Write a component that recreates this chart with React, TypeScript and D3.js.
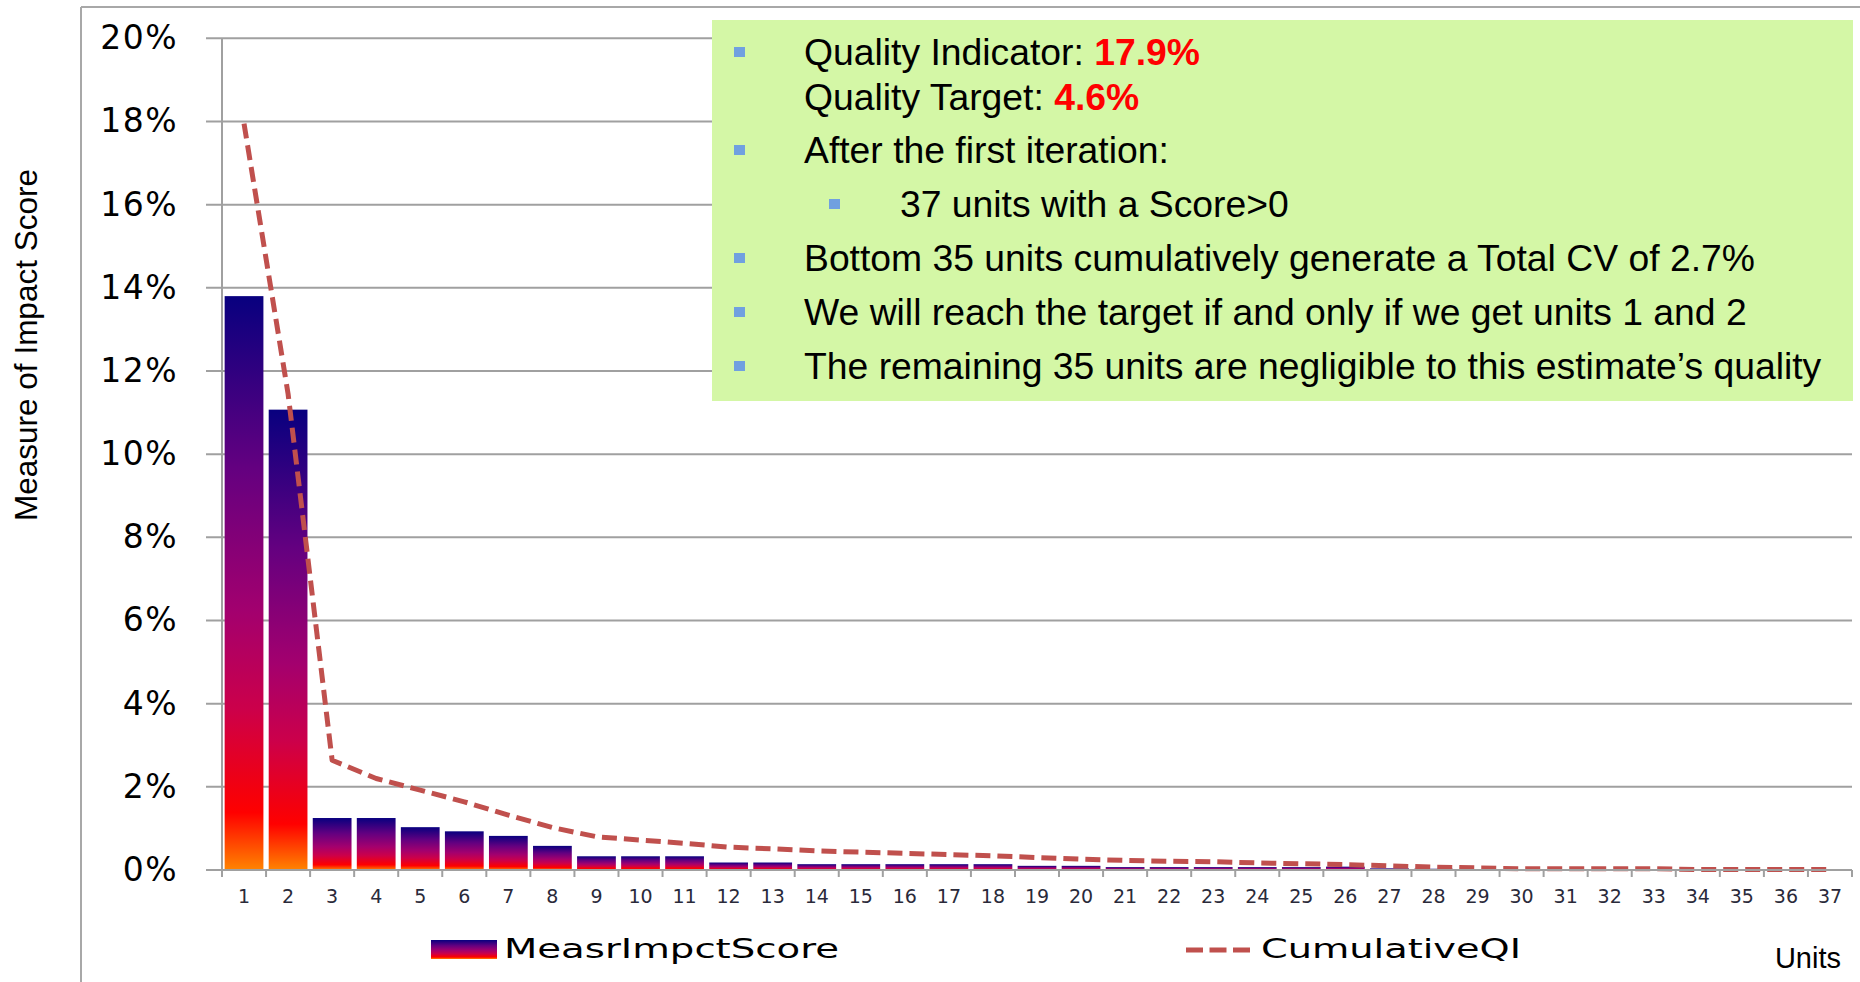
import React, { useEffect, useRef } from "react";
import * as d3 from "d3";

// units along the x axis
const units = [
  "1", "2", "3", "4", "5", "6", "7", "8", "9", "10", "11", "12", "13", "14", "15", "16", "17", "18", "19",
  "20", "21", "22", "23", "24", "25", "26", "27", "28", "29", "30", "31", "32", "33", "34", "35", "36", "37",
];

// MeasrImpctScore, in %
const impactScore = [
  13.8, 11.07, 1.25, 1.25, 1.03, 0.93, 0.82, 0.58, 0.33, 0.33, 0.33, 0.18, 0.18, 0.14, 0.14, 0.14, 0.14, 0.14,
  0.1, 0.1, 0.07, 0.07, 0.07, 0.07, 0.07, 0.08, 0.04, 0.03, 0.01, 0.01, 0.01, 0.01, 0.01, 0.01, 0.01, 0.01, 0.01,
];

// CumulativeQI, in %
const cumulativeQI = [
  17.95, 11.45, 2.64, 2.2, 1.92, 1.64, 1.32, 1.02, 0.8, 0.72, 0.64, 0.55, 0.51, 0.46, 0.43, 0.4, 0.37, 0.34,
  0.3, 0.26, 0.23, 0.21, 0.2, 0.17, 0.15, 0.13, 0.1, 0.07, 0.05, 0.03, 0.03, 0.03, 0.03, 0.01, 0.01, 0.01, 0.01,
];

const yTicks = [0, 2, 4, 6, 8, 10, 12, 14, 16, 18, 20];

const W = 1860;
const H = 982;

export default function App() {
  const ref = useRef<SVGGElement>(null);

  useEffect(() => {
    const svg = d3.select(ref.current);
    svg.selectAll("*").remove();

    const left = 222;
    const right = 1852;
    const bottom = 870;
    const top = 38.3;

    const x = d3.scaleBand().domain(units).range([left, right]).padding(0);
    const y = d3.scaleLinear().domain([0, 20]).range([bottom, top]);

    // gradient like the excel "fire" preset
    const grad = svg
      .append("defs")
      .append("linearGradient")
      .attr("id", "fire")
      .attr("x1", 0)
      .attr("y1", 0)
      .attr("x2", 0)
      .attr("y2", 1);
    const stops: [number, string][] = [
      [0, "#08007f"],
      [0.3, "#640080"],
      [0.55, "#a3006e"],
      [0.72, "#cc004a"],
      [0.86, "#f3000e"],
      [0.9, "#ff0000"],
      [1, "#ff8400"],
    ];
    stops.forEach(([o, c]) => grad.append("stop").attr("offset", o).attr("stop-color", c));

    // outer frame
    svg.append("line").attr("x1", 81).attr("x2", W).attr("y1", 7).attr("y2", 7)
      .attr("stroke", "#a8a8a8").attr("stroke-width", 2);
    svg.append("line").attr("x1", 81).attr("x2", 81).attr("y1", 7).attr("y2", H)
      .attr("stroke", "#a8a8a8").attr("stroke-width", 2);

    // grid + y ticks
    const grid = svg.append("g");
    grid.selectAll("line")
      .data(yTicks)
      .enter()
      .append("line")
      .attr("x1", left - 16)
      .attr("x2", right)
      .attr("y1", (d) => y(d))
      .attr("y2", (d) => y(d))
      .attr("stroke", "#a0a0a0")
      .attr("stroke-width", 2);

    grid.selectAll("text")
      .data(yTicks)
      .enter()
      .append("text")
      .text((d) => d + "%")
      .attr("x", 178)
      .attr("y", (d) => y(d) + 11)
      .attr("text-anchor", "end")
      .attr("font-family", "DejaVu Sans")
      .attr("font-size", 33)
      .attr("letter-spacing", 1.5)
      .attr("fill", "#000");

    // y axis line
    svg.append("line").attr("x1", left).attr("x2", left).attr("y1", top).attr("y2", bottom + 7)
      .attr("stroke", "#a0a0a0").attr("stroke-width", 2);

    // x ticks between categories
    const bounds = units.map((u) => x(u)!).concat([right]);
    svg.append("g")
      .selectAll("line")
      .data(bounds)
      .enter()
      .append("line")
      .attr("x1", (d) => d)
      .attr("x2", (d) => d)
      .attr("y1", bottom)
      .attr("y2", bottom + 7)
      .attr("stroke", "#a0a0a0")
      .attr("stroke-width", 2);

    // bars
    const bw = x.bandwidth() * 0.88;
    svg.append("g")
      .selectAll("rect")
      .data(impactScore)
      .enter()
      .append("rect")
      .attr("x", (d, i) => x(units[i])! + (x.bandwidth() - bw) / 2)
      .attr("y", (d) => y(d))
      .attr("width", bw)
      .attr("height", (d) => y(0) - y(d))
      .attr("fill", "url(#fire)");

    // x tick labels
    svg.append("g")
      .selectAll("text")
      .data(units)
      .enter()
      .append("text")
      .text((d) => d)
      .attr("x", (d) => x(d)! + x.bandwidth() / 2)
      .attr("y", bottom + 33)
      .attr("text-anchor", "middle")
      .attr("font-family", "DejaVu Sans")
      .attr("font-size", 19)
      .attr("fill", "#2a2a3a");

    // cumulative QI line
    const line = d3
      .line<number>()
      .x((d, i) => x(units[i])! + x.bandwidth() / 2)
      .y((d) => y(d));

    svg.append("path")
      .attr("d", line(cumulativeQI))
      .attr("fill", "none")
      .attr("stroke", "#c0504d")
      .attr("stroke-width", 5)
      .attr("stroke-linejoin", "round")
      .attr("stroke-dasharray", "15 7");

    // x axis line
    svg.append("line").attr("x1", left - 16).attr("x2", right).attr("y1", bottom).attr("y2", bottom)
      .attr("stroke", "#a0a0a0").attr("stroke-width", 2);

    // legend
    svg.append("rect").attr("x", 431).attr("y", 940).attr("width", 66).attr("height", 19).attr("fill", "url(#fire)");
    svg.append("text").text("MeasrImpctScore")
      .attr("x", 504).attr("y", 958)
      .attr("font-family", "DejaVu Sans").attr("font-size", 26)
      .attr("textLength", 335).attr("lengthAdjust", "spacingAndGlyphs");
    svg.append("line").attr("x1", 1186).attr("x2", 1250).attr("y1", 950).attr("y2", 950)
      .attr("stroke", "#c0504d").attr("stroke-width", 5).attr("stroke-dasharray", "17 6.5");
    svg.append("text").text("CumulativeQI")
      .attr("x", 1261).attr("y", 958)
      .attr("font-family", "DejaVu Sans").attr("font-size", 26)
      .attr("textLength", 260).attr("lengthAdjust", "spacingAndGlyphs");

    // axis titles
    svg.append("text").text("Units")
      .attr("x", 1841).attr("y", 968).attr("text-anchor", "end")
      .attr("font-family", "Liberation Sans").attr("font-size", 29);
    svg.append("text").text("Measure of Impact Score")
      .attr("transform", "translate(37,345) rotate(-90)")
      .attr("text-anchor", "middle")
      .attr("font-family", "Liberation Sans").attr("font-size", 31.5);
  }, []);

  return (
    <svg
      width={W}
      height={H}
      style={{ position: "absolute", left: 0, top: 0, background: "#fff" }}
    >
      <g ref={ref} />
      <NotesBox />
    </svg>
  );
}

const txt = { fontFamily: "Liberation Sans", fontSize: 37.3, fill: "#000" };
const red = { fill: "#ff0000", fontWeight: "bold" as const };

function Bullet({ x, y }: { x: number; y: number }) {
  return <rect x={x} y={y - 18} width={11} height={10} fill="#70a0e0" />;
}

function NotesBox() {
  return (
    <g>
      <rect x={712} y={20} width={1141} height={381} fill="#d4f7a6" />
      <Bullet x={734} y={65} />
      <text x={804} y={65} style={txt}>
        Quality Indicator: <tspan style={red}>17.9%</tspan>
      </text>
      <text x={804} y={110} style={txt}>
        Quality Target: <tspan style={red}>4.6%</tspan>
      </text>
      <Bullet x={734} y={163} />
      <text x={804} y={163} style={txt}>After the first iteration:</text>
      <Bullet x={829} y={217} />
      <text x={900} y={217} style={txt}>37 units with a Score&gt;0</text>
      <Bullet x={734} y={271} />
      <text x={804} y={271} style={txt}>Bottom 35 units cumulatively generate a Total CV of 2.7%</text>
      <Bullet x={734} y={325} />
      <text x={804} y={325} style={txt}>We will reach the target if and only if we get units 1 and 2</text>
      <Bullet x={734} y={379} />
      <text x={804} y={379} style={txt}>The remaining 35 units are negligible to this estimate’s quality</text>
    </g>
  );
}
